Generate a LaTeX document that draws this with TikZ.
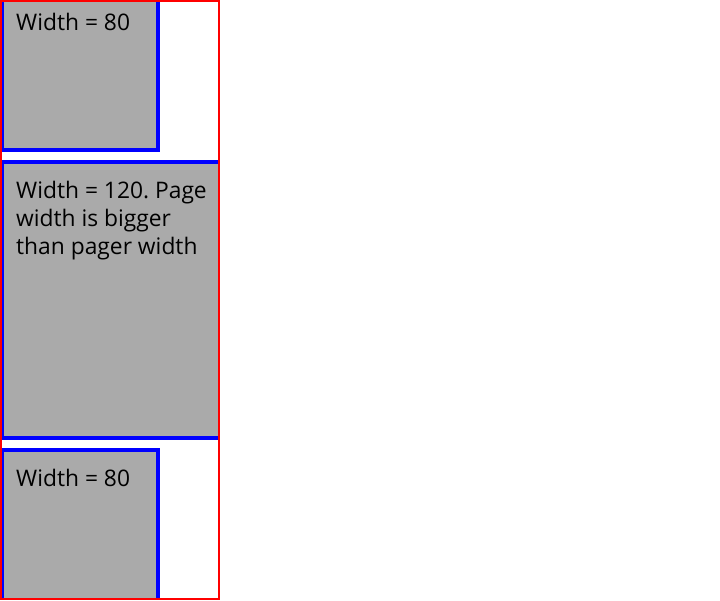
\documentclass[tikz,border=0pt]{standalone}
\usepackage{fontspec}
\setmainfont{Open Sans}
\frenchspacing
\definecolor{pagegray}{HTML}{AAAAAA}
\definecolor{pageblue}{HTML}{0000FF}
\definecolor{pagerred}{HTML}{FF0000}
\begin{document}
\begin{tikzpicture}[x=1pt,y=-1pt,
  page/.style={fill=pagegray,draw=pageblue,line width=4pt},
  label/.style={anchor=base west,inner sep=0pt,align=left,
    font=\fontsize{22.8}{28}\selectfont}]
\useasboundingbox (0,0) rectangle (720,600);
% pages, clipped to the pager's inside
\begin{scope}
  \clip (2,2) rectangle (218,598);
  \draw[page] (2,-6) rectangle (158,150);
  \draw[page] (2,162) rectangle (222,438);
  \draw[page] (2,450) rectangle (158,610);
\end{scope}
% captions; a multi-line node sits on the baseline of its last line
\node[label] (t1) at (16,30) {Width = 80};
\node[label] (t2) at (16,254) {Width = 120. Page\\width is bigger\\than pager width};
\node[label] (t3) at (16,486) {Width = 80};
% pager outline
\draw[pagerred,line width=2pt] (1,1) rectangle (219,599);
\end{tikzpicture}
\end{document}
